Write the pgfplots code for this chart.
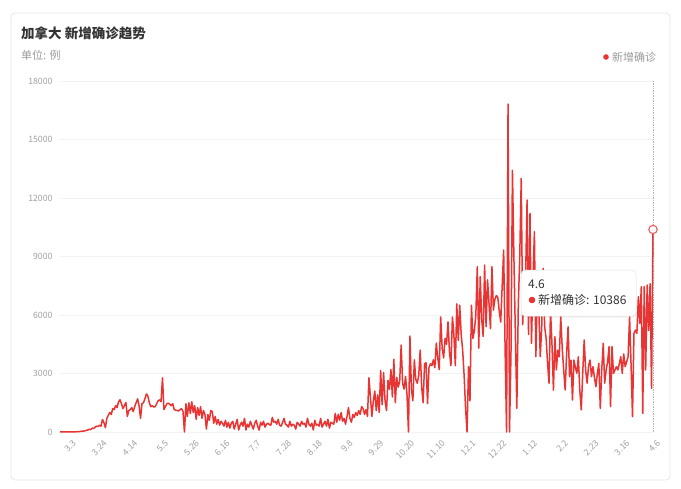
\documentclass[border=0pt]{standalone}
\usepackage{pgfplots}
\pgfplotsset{compat=1.18}
\usepackage{pgfplotstable}
\usepackage{fontspec}
\setmainfont{Noto Sans CJK SC}
\usetikzlibrary{shadows}
\definecolor{linered}{RGB}{233,52,52}
\definecolor{txtdark}{RGB}{51,51,51}
\definecolor{txtgray}{RGB}{153,153,153}
\definecolor{tickgray}{RGB}{160,160,160}
\definecolor{gridc}{RGB}{242,242,242}
\definecolor{cardb}{RGB}{230,230,230}

\pgfplotstableread[row sep=\\]{
y\\
2\\1\\3\\2\\4\\3\\6\\3\\4\\8\\
10\\12\\15\\20\\30\\40\\45\\60\\80\\100\\
140\\120\\200\\180\\250\\300\\280\\350\\300\\640\\
480\\220\\700\\850\\1000\\900\\1200\\1150\\1350\\1250\\
1550\\1650\\1450\\1200\\1350\\1520\\800\\1100\\1150\\1250\\
1050\\1300\\1500\\1700\\1350\\700\\1450\\1500\\1700\\1950\\
1850\\1500\\1300\\1350\\1280\\1300\\1450\\1600\\1650\\1550\\
2780\\1150\\1300\\1450\\1480\\1420\\1350\\1450\\1150\\1120\\
1100\\1080\\1150\\1200\\1050\\0\\1450\\800\\1500\\950\\
1550\\1000\\1350\\650\\1250\\850\\1300\\700\\1100\\900\\
150\\900\\600\\1100\\1050\\450\\800\\400\\650\\350\\
550\\450\\300\\600\\250\\500\\200\\450\\550\\150\\
400\\650\\100\\350\\500\\300\\700\\100\\400\\250\\
550\\350\\150\\450\\600\\300\\100\\500\\350\\550\\
250\\400\\450\\380\\350\\750\\500\\550\\400\\650\\
350\\300\\480\\700\\400\\350\\250\\550\\300\\400\\
350\\150\\500\\400\\300\\550\\400\\450\\250\\700\\
400\\300\\450\\100\\600\\350\\400\\300\\700\\250\\
400\\550\\300\\650\\200\\500\\450\\400\\950\\500\\
900\\600\\1000\\550\\700\\400\\800\\1250\\700\\500\\
900\\750\\1000\\850\\1100\\900\\1300\\1200\\900\\1150\\
800\\2780\\1800\\800\\1600\\2100\\1100\\1900\\1000\\3150\\
1400\\3050\\1600\\1100\\2650\\2200\\3200\\1800\\3730\\1500\\
2800\\2300\\2600\\4460\\2500\\2200\\2850\\1900\\0\\4920\\
2200\\1600\\3700\\2700\\2500\\2900\\4200\\2300\\1500\\3500\\
3550\\1450\\3300\\3500\\3400\\3700\\3300\\4560\\3800\\3200\\
5900\\4300\\3800\\4800\\4500\\5650\\4100\\3400\\5900\\5000\\
3400\\6570\\4700\\6500\\5000\\4200\\2900\\1200\\0\\3350\\
1600\\6500\\4800\\5200\\6000\\8480\\4300\\7970\\5800\\4900\\
8560\\5400\\7800\\6600\\5300\\8480\\6250\\6800\\7000\\6900\\
6200\\5640\\7500\\9330\\4200\\0\\16820\\0\\4000\\13420\\
9000\\5000\\1210\\6500\\9000\\13000\\5500\\7500\\8000\\11900\\
5000\\11210\\4540\\7800\\10270\\3860\\7200\\6250\\3860\\5400\\
8390\\5400\\4800\\3520\\2500\\6250\\4500\\2150\\4890\\3180\\
4200\\3860\\5910\\4300\\3180\\2150\\4000\\5400\\2840\\3690\\
1640\\3690\\3300\\3010\\3860\\2150\\1130\\3000\\4720\\3180\\
2500\\3400\\3690\\2840\\3350\\2800\\2320\\3000\\3520\\1210\\
3200\\4550\\2500\\3180\\3600\\4380\\1300\\4380\\3000\\3180\\
3350\\3180\\3500\\3860\\3010\\4000\\3350\\3600\\3860\\5910\\
3500\\790\\5060\\5230\\5060\\6940\\5570\\7450\\960\\7450\\
3180\\7540\\5200\\7600\\2240\\10386\\
}\datatable

\begin{document}
\begin{tikzpicture}[x=1pt,y=1pt]
\useasboundingbox (0,0) rectangle (681,489);
\draw[cardb, rounded corners=4pt, line width=0.8pt] (11,9) rectangle (670,476);
\node[anchor=west, text=txtdark, font=\fontsize{13.5}{15}\selectfont\bfseries, inner sep=0] at (21,456) {加拿大 新增确诊趋势};
\node[anchor=west, text=txtgray, font=\fontsize{11}{13}\selectfont, inner sep=0] at (21,434) {单位: 例};
\fill[linered] (606,432) circle (2.8);
\node[anchor=west, text=txtgray, font=\fontsize{11}{13}\selectfont, inner sep=0] at (612,432) {新增确诊};
\begin{axis}[
  at={(60pt,57pt)}, anchor=south west, scale only axis,
  width=593pt, height=351pt,
  xmin=0, xmax=405, ymin=0, ymax=18000,
  axis line style={draw=none},
  major tick length=0pt,
  ymajorgrids, grid style={gridc, line width=0.8pt},
  ytick={0,3000,6000,9000,12000,15000,18000},
  scaled y ticks=false,
  /pgf/number format/assume math mode=true,
  /pgf/number format/1000 sep={},
  yticklabel style={text=tickgray, font=\fontsize{8.7}{10}\selectfont, xshift=-4pt},
  xtick={6,27,48,69,90,111,132,153,174,195,216,237,258,279,300,321,342,363,384,405},
  xticklabels={3.3,3.24,4.14,5.5,5.26,6.16,7.7,7.28,8.18,9.8,9.29,10.20,11.10,12.1,12.22,1.12,2.2,2.23,3.16,4.6},
  xticklabel style={text=tickgray, font=\fontsize{8.7}{10}\selectfont, rotate=45, anchor=east, xshift=0.5pt, yshift=-11pt},
  clip=false,
]
\draw[densely dotted, color=black!30, line width=0.7pt] (axis cs:405,0) -- (axis cs:405,18000);
\addplot[linered, line width=1.5pt, line join=round, mark=none] table[x expr=\coordindex, y=y] {\datatable};
\addplot[only marks, mark=*, mark size=4.2pt, mark options={draw=linered!80, fill=white, line width=1.1pt}] coordinates {(405,10386)};
\end{axis}
\node[draw=black!12, fill=white, rounded corners=4pt, minimum width=115pt, minimum height=46pt, anchor=north west, inner sep=0,
      drop shadow={shadow xshift=0pt, shadow yshift=-1.5pt, opacity=0.12}] at (521,219) {};
\node[anchor=west, text=txtdark, font=\fontsize{12}{14}\selectfont, inner sep=0] at (528,205) {4.6};
\fill[linered] (532,189) circle (3.3);
\node[anchor=west, text=txtdark, font=\fontsize{12}{14}\selectfont, inner sep=0] at (538,189) {新增确诊: 10386};
\end{tikzpicture}
\end{document}
